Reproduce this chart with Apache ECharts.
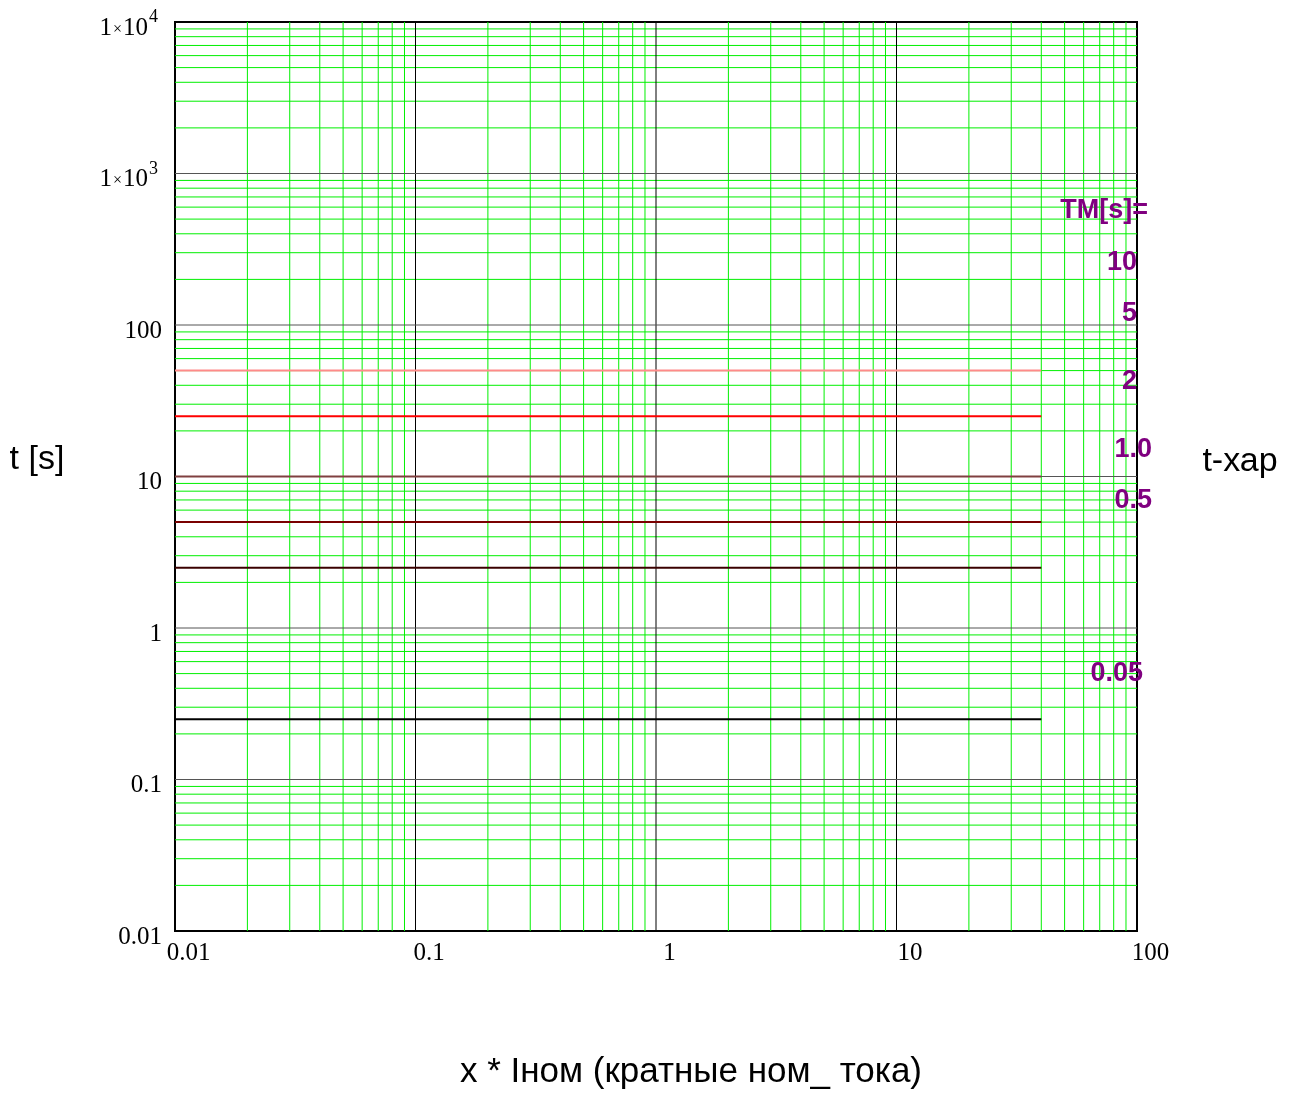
<!DOCTYPE html>
<html>
<head>
<meta charset="utf-8">
<title>t-хар</title>
<script src="https://cdn.jsdelivr.net/npm/echarts@6/dist/echarts.min.js"></script>
<style>
  html, body { margin: 0; padding: 0; background: #fff; }
  #chart { width: 1291px; height: 1093px; }
</style>
</head>
<body>
<div id="chart"></div>
<script>
  // axis ranges (decades)
  const xDecades = [0.01, 0.1, 1, 10, 100]
  const yDecades = [0.01, 0.1, 1, 10, 100, 1000, 10000]
  const xTickLabels = ['0.01', '0.1', '1', '10', '100']
  const yTickLabels = ['0.01', '0.1', '1', '10', '100', '1x3', '1x4']
  const minorSteps = [2, 3, 4, 5, 6, 7, 8, 9]

  // time curves t-хар (constant levels)
  const curveX = [0.01, 40]
  const curveT = [50, 25, 10, 5, 2.5, 0.25]
  const curveColors = ['#ff8a8a', '#ff0000', '#804040', '#7a0000', '#3a0000', '#000000']

  // TM labels on the right
  const tmLabels = ['TM[s]=', '10', '5', '2', '1.0', '0.5', '0.05']
  const tmPos = [[1148, 211], [1137, 263], [1137, 314], [1137, 382], [1152, 450], [1152, 501], [1143, 674]]

  const xMin = xDecades[0], xMax = xDecades[xDecades.length - 1]
  const yMin = yDecades[0], yMax = yDecades[yDecades.length - 1]

  const minorVals = (decades) => {
    const out = []
    for (let i = 0; i < decades.length - 1; i++) {
      minorSteps.forEach(m => out.push(+(m * decades[i]).toPrecision(3)))
    }
    return out
  }

  // gridlines as broken polylines: each value gives one segment, '-' breaks the line
  const vLines = (vals) => {
    const d = []
    vals.forEach(v => { d.push([v, yMin], [v, yMax], [v, '-']) })
    return d
  }
  const hLines = (vals) => {
    const d = []
    vals.forEach(v => { d.push([xMin, v], [xMax, v], ['-', v]) })
    return d
  }

  const decadeIndex = (v, decades) => Math.round(Math.log10(v / decades[0]))

  const chart = echarts.init(document.getElementById('chart'))

  const gridSeries = (name, data, color, z) => ({
    name: name,
    type: 'line',
    z: z,
    symbol: 'none',
    silent: true,
    animation: false,
    connectNulls: false,
    emphasis: { disabled: true },
    lineStyle: { color: color, width: 1 },
    data: data,
  })

  const series = [
    gridSeries('minorV', vLines(minorVals(xDecades)), '#00f000', 1),
    gridSeries('minorH', hLines(minorVals(yDecades)), '#00f000', 1),
    gridSeries('majorV', vLines(xDecades.slice(1, -1)), '#000000', 2),
    gridSeries('majorH', hLines(yDecades.slice(1, -1)), '#555555', 2),
  ]

  curveT.forEach((t, i) => {
    series.push({
      name: 'TM' + i,
      type: 'line',
      z: 5,
      symbol: 'none',
      silent: true,
      animation: false,
      emphasis: { disabled: true },
      lineStyle: { color: curveColors[i], width: 2 },
      data: curveX.map(x => [x, t]),
    })
  })

  const serif = '"Liberation Serif", "Times New Roman", serif'
  const sans = '"Liberation Sans", Arial, sans-serif'

  chart.setOption({
    backgroundColor: '#fff',
    animation: false,
    grid: {
      left: 175,
      top: 22,
      width: 962,
      height: 909,
      show: true,
      borderColor: '#000',
      borderWidth: 2,
      backgroundColor: 'transparent',
    },
    xAxis: {
      type: 'log',
      logBase: 10,
      min: xMin,
      max: xMax,
      axisLine: { show: false },
      axisTick: { show: false },
      splitLine: { show: false },
      minorTick: { show: false },
      minorSplitLine: { show: false },
      axisLabel: {
        color: '#000',
        fontFamily: serif,
        fontSize: 25,
        margin: 10,
        padding: [0, 0, 0, 27],
        formatter: v => xTickLabels[decadeIndex(v, xDecades)],
      },
    },
    yAxis: {
      type: 'log',
      logBase: 10,
      min: yMin,
      max: yMax,
      axisLine: { show: false },
      axisTick: { show: false },
      splitLine: { show: false },
      minorTick: { show: false },
      minorSplitLine: { show: false },
      axisLabel: {
        color: '#000',
        fontFamily: serif,
        fontSize: 25,
        margin: 13,
        padding: [12, 0, 0, 0],
        formatter: v => {
          const s = yTickLabels[decadeIndex(v, yDecades)]
          if (s.indexOf('x') > 0) {
            const p = s.split('x')
            return '{n|' + p[0] + '}{x|×}{n|10}{sup|' + p[1] + '}'
          }
          return s
        },
        rich: {
          n: { fontSize: 25, lineHeight: 25, verticalAlign: 'bottom', fontFamily: serif, color: '#000' },
          x: { fontSize: 16, lineHeight: 16, verticalAlign: 'bottom', padding: [0, 1, 3, 1], fontFamily: serif, color: '#000' },
          sup: { fontSize: 18, lineHeight: 18, verticalAlign: 'bottom', padding: [0, 4, 14, 1], fontFamily: serif, color: '#000' },
        },
      },
    },
    graphic: [
      {
        type: 'text', x: 37, y: 460,
        style: { text: 't [s]', font: '34px ' + sans, fill: '#000', align: 'center', verticalAlign: 'middle' },
      },
      {
        type: 'text', x: 1240, y: 462,
        style: { text: 't-хар', font: '34px ' + sans, fill: '#000', align: 'center', verticalAlign: 'middle' },
      },
      {
        type: 'text', x: 691, y: 1072,
        style: { text: 'x * Iном (кратные ном_ тока)', font: '35px ' + sans, fill: '#000', align: 'center', verticalAlign: 'middle' },
      },
    ].concat(tmLabels.map((t, i) => ({
      type: 'text', x: tmPos[i][0], y: tmPos[i][1], z: 100,
      style: { text: t, font: 'bold 27px ' + sans, fill: '#800080', align: 'right', verticalAlign: 'middle' },
    }))),
    series: series,
  })
</script>
</body>
</html>
